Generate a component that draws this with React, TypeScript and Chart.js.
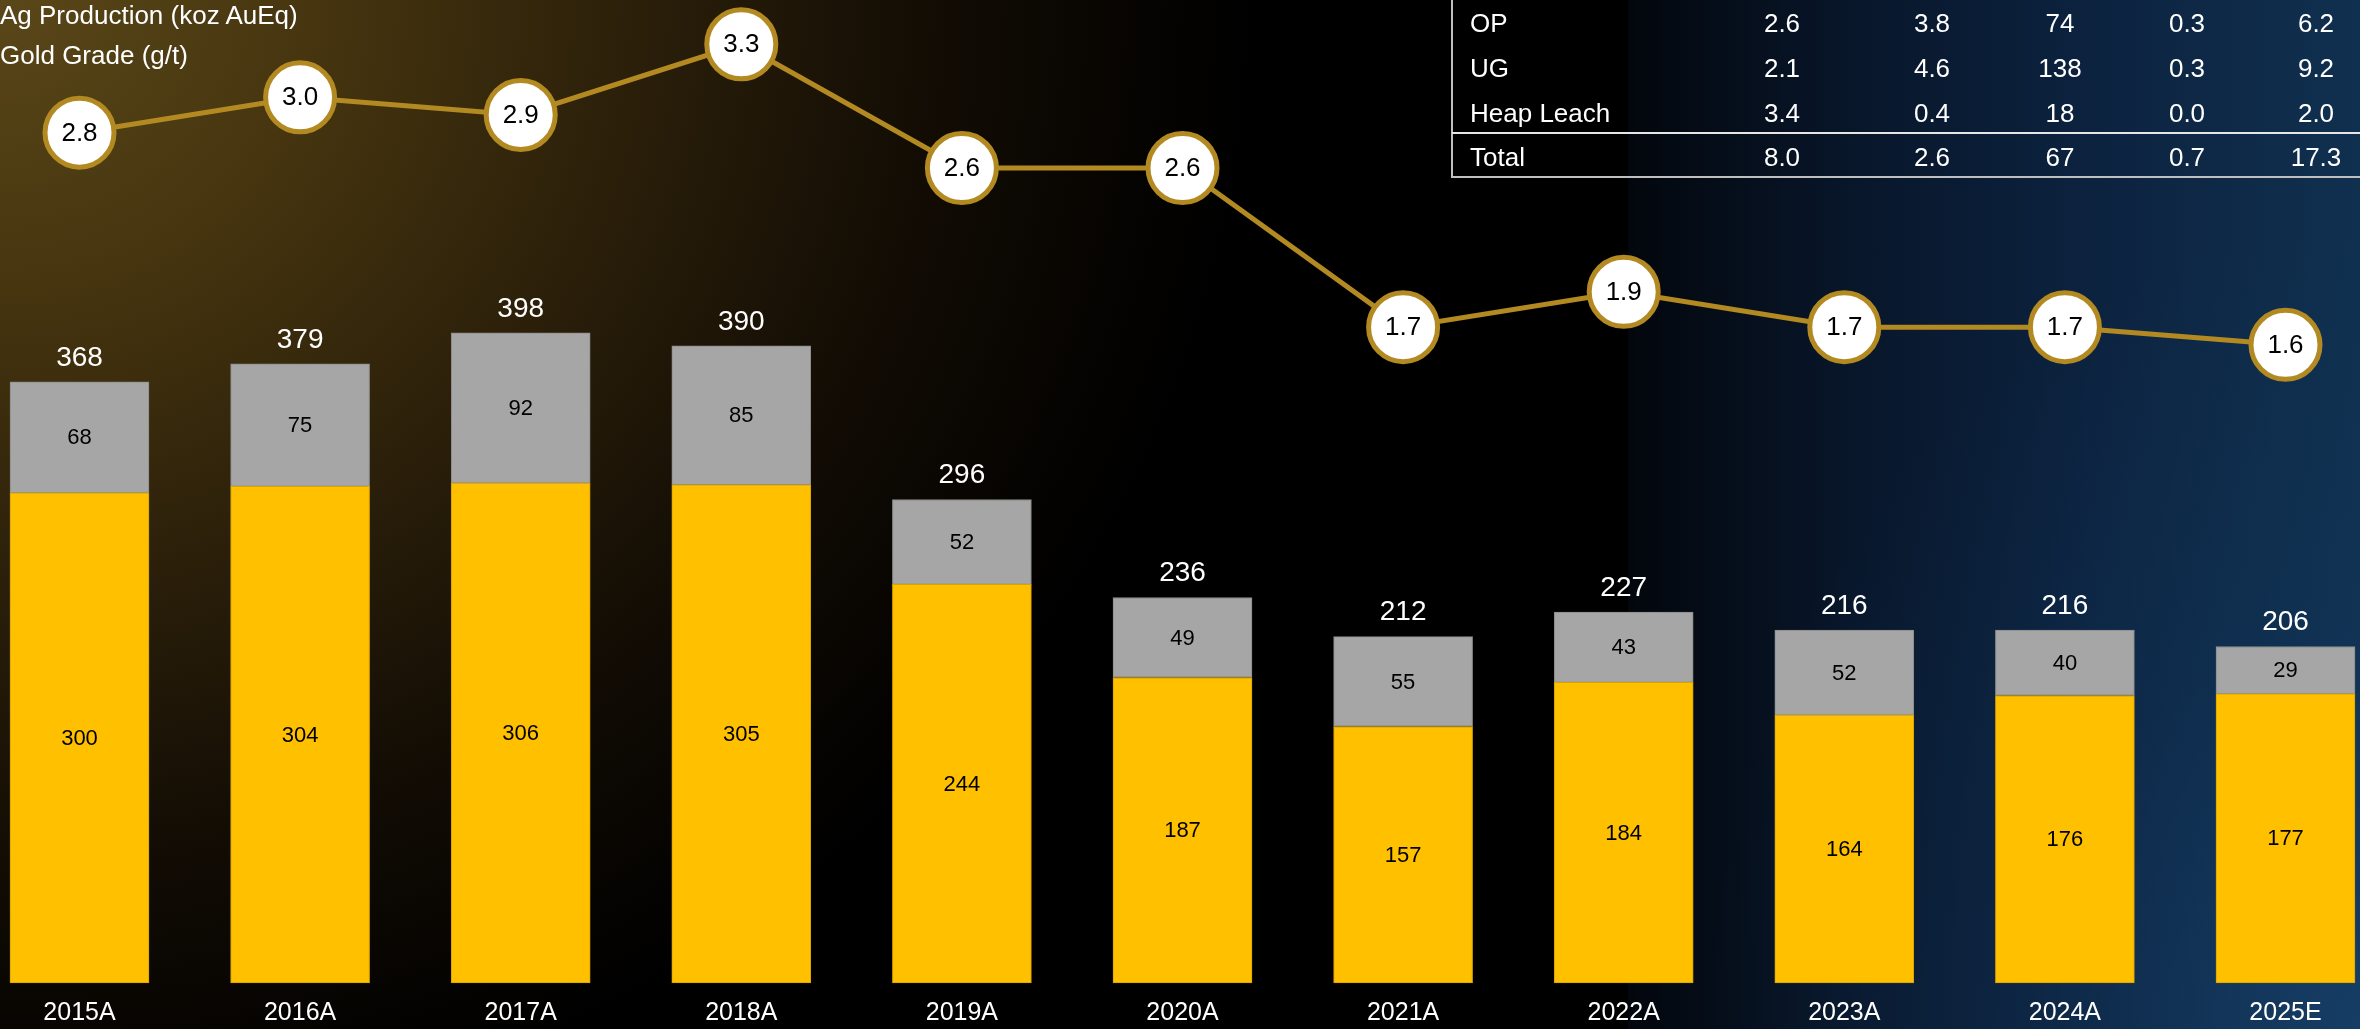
import React, { useEffect, useRef } from "react";
import { Chart, registerables } from "chart.js";

Chart.register(...registerables);

const categories = ["2015A", "2016A", "2017A", "2018A", "2019A", "2020A", "2021A", "2022A", "2023A", "2024A", "2025E"];
const baseValues = [300, 304, 306, 305, 244, 187, 157, 184, 164, 176, 177];
const topValues = [68, 75, 92, 85, 52, 49, 55, 43, 52, 40, 29];
const totalLabels = [368, 379, 398, 390, 296, 236, 212, 227, 216, 216, 206];
const gradeValues = [2.8, 3.0, 2.9, 3.3, 2.6, 2.6, 1.7, 1.9, 1.7, 1.7, 1.6];

const legendLabels = ["Ag Production (koz AuEq)", "Gold Grade (g/t)"];
const tableRowLabels = ["OP", "UG", "Heap Leach", "Total"];
const tableOP = ["2.6", "3.8", "74", "0.3", "6.2"];
const tableUG = ["2.1", "4.6", "138", "0.3", "9.2"];
const tableHeap = ["3.4", "0.4", "18", "0.0", "2.0"];
const tableTotal = ["8.0", "2.6", "67", "0.7", "17.3"];

const FONT = "'Liberation Sans', Arial, sans-serif";
const GOLD = "#B38A22";
const YELLOW = "#FFC000";
const GREY = "#A6A6A6";

const labelPlugin = {
  id: "valueLabels",
  afterDatasetsDraw(chart: any) {
    const ctx = chart.ctx;
    ctx.save();
    ctx.textAlign = "center";
    ctx.textBaseline = "middle";
    chart.data.datasets.forEach((ds: any, di: number) => {
      const meta = chart.getDatasetMeta(di);
      if (ds.type === "line") {
        ctx.fillStyle = "#000";
        ctx.font = `26px ${FONT}`;
        meta.data.forEach((el: any, i: number) => {
          const p = el.getProps(["x", "y"], true);
          ctx.fillText(Number(ds.data[i]).toFixed(1), p.x, p.y + 1);
        });
      } else {
        ctx.fillStyle = "#000";
        ctx.font = `22px ${FONT}`;
        meta.data.forEach((el: any, i: number) => {
          const p = el.getProps(["x", "y", "base"], true);
          ctx.fillText(String(ds.data[i]), p.x, (p.y + p.base) / 2 + 1);
        });
        if (ds.isTop) {
          ctx.fillStyle = "#fff";
          ctx.font = `28px ${FONT}`;
          meta.data.forEach((el: any, i: number) => {
            const p = el.getProps(["x", "y"], true);
            ctx.fillText(String(totalLabels[i]), p.x, p.y - 24);
          });
        }
      }
    });
    ctx.restore();
  },
};

export default function App() {
  const canvasRef = useRef<HTMLCanvasElement | null>(null);

  useEffect(() => {
    if (!canvasRef.current) return;
    const chart = new Chart(canvasRef.current, {
      type: "bar",
      data: {
        labels: categories,
        datasets: [
          {
            type: "line",
            label: legendLabels[1],
            data: gradeValues,
            yAxisID: "y1",
            borderColor: GOLD,
            borderWidth: 5,
            pointRadius: 34.5,
            pointHoverRadius: 34.5,
            pointBorderWidth: 5,
            pointBackgroundColor: "#FFFFFF",
            pointBorderColor: GOLD,
            tension: 0,
            order: 0,
            clip: false,
          } as any,
          {
            type: "bar",
            label: "base",
            data: baseValues,
            yAxisID: "y",
            backgroundColor: YELLOW,
            borderColor: "#D9A300",
            borderWidth: 1,
            borderSkipped: false,
            barThickness: 139,
            stack: "prod",
            order: 1,
            clip: false,
          } as any,
          {
            type: "bar",
            label: legendLabels[0],
            data: topValues,
            yAxisID: "y",
            backgroundColor: GREY,
            borderColor: "#8A8A8A",
            borderWidth: 1,
            borderSkipped: false,
            barThickness: 139,
            stack: "prod",
            order: 1,
            clip: false,
            isTop: true,
          } as any,
        ],
      },
      options: {
        responsive: false,
        maintainAspectRatio: false,
        animation: false,
        devicePixelRatio: 1,
        layout: { autoPadding: false, padding: { left: 79.5, right: 74.5, top: 20, bottom: 0 } },
        plugins: {
          legend: { display: false },
          tooltip: { enabled: false },
        },
        scales: {
          x: {
            type: "category",
            offset: false,
            stacked: true,
            grid: { display: false, drawTicks: false },
            border: { display: false },
            ticks: {
              color: "#FFFFFF",
              font: { size: 25, family: FONT },
              padding: 15,
              maxRotation: 0,
              autoSkip: false,
            },
            afterFit: (scale: any) => {
              scale.height = 46;
            },
          },
          y: { display: false, stacked: true, min: 0, max: 589.5 },
          y1: { display: false, min: -2.0096, max: 3.4372 },
        },
      } as any,
      plugins: [labelPlugin],
    });
    return () => chart.destroy();
  }, []);

  const tableRows = [tableOP, tableUG, tableHeap, tableTotal];
  const colCenters = [1782, 1932, 2060, 2187, 2316];
  const rowCenters = [23, 68, 113, 157];

  return (
    <div
      style={{
        position: "fixed",
        left: 0,
        top: 0,
        width: 2360,
        height: 1029,
        overflow: "hidden",
        background: "#000",
        fontFamily: FONT,
      }}
    >
      <div
        style={{
          position: "absolute",
          left: 0,
          top: 0,
          width: 1628,
          height: 1029,
          background:
            "radial-gradient(ellipse 1250px 1150px at 0% 0%, #5a4719 0%, #46350f 25%, #2c200a 50%, #120c04 75%, #000000 100%)",
        }}
      />
      <div
        style={{
          position: "absolute",
          left: 1628,
          top: 0,
          width: 732,
          height: 1029,
          background:
            "radial-gradient(ellipse 650px 800px at 100% 100%, rgba(26,72,118,0.55) 0%, rgba(20,60,100,0.25) 50%, rgba(0,0,0,0) 100%), linear-gradient(to right, #03070d 0%, #08162a 30%, #0c2340 65%, #10304f 100%)",
        }}
      />
      <canvas
        ref={canvasRef}
        width={2360}
        height={1029}
        style={{ position: "absolute", left: 0, top: 0, width: 2360, height: 1029, display: "block" }}
      />
      {legendLabels.map((t, i) => (
        <div
          key={t}
          style={{
            position: "absolute",
            left: 0,
            top: (i === 0 ? 15 : 55) - 15,
            height: 30,
            lineHeight: "30px",
            fontSize: 26,
            color: "#FFFFFF",
            whiteSpace: "nowrap",
          }}
        >
          {t}
        </div>
      ))}
      <div style={{ position: "absolute", left: 1451, top: 0, width: 2, height: 178, background: "#BFBFBF" }} />
      <div style={{ position: "absolute", left: 1452, top: 131.5, width: 908, height: 2.5, background: "#E6E6E6" }} />
      <div style={{ position: "absolute", left: 1452, top: 176, width: 908, height: 2, background: "#BFBFBF" }} />
      {tableRowLabels.map((lab, r) => (
        <React.Fragment key={lab}>
          <div
            style={{
              position: "absolute",
              left: 1470,
              top: rowCenters[r] - 16,
              height: 32,
              lineHeight: "32px",
              fontSize: 26,
              color: "#FFFFFF",
              whiteSpace: "nowrap",
            }}
          >
            {lab}
          </div>
          {tableRows[r].map((v, c) => (
            <div
              key={c}
              style={{
                position: "absolute",
                left: colCenters[c] - 50,
                width: 100,
                textAlign: "center",
                top: rowCenters[r] - 16,
                height: 32,
                lineHeight: "32px",
                fontSize: 26,
                color: "#FFFFFF",
                whiteSpace: "nowrap",
              }}
            >
              {v}
            </div>
          ))}
        </React.Fragment>
      ))}
    </div>
  );
}
